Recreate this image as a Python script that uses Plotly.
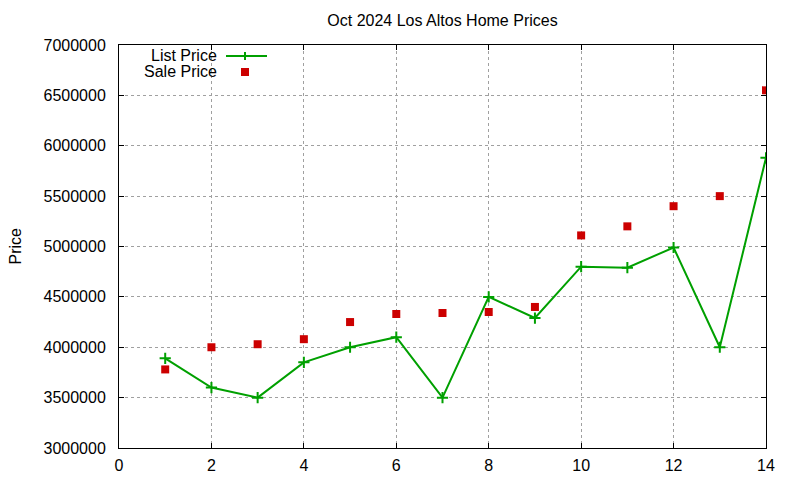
import plotly.graph_objects as go

# Oct 2024 Los Altos home prices
sale_no = list(range(1, 15))
list_price = [3890000, 3600000, 3500000, 3850000, 4000000, 4100000, 3500000,
              4500000, 4290000, 4800000, 4790000, 4990000, 4000000, 5880000]
sale_price = [3780000, 4000000, 4030000, 4080000, 4250000, 4330000, 4340000,
              4350000, 4400000, 5110000, 5200000, 5400000, 5500000, 6550000]

x_ticks = list(range(0, 15, 2))
y_ticks = list(range(3000000, 7000001, 500000))

GREEN = "#00a000"
RED = "#cc0000"
FONT = "Liberation Sans, Arial, sans-serif"

fig = go.Figure()

fig.add_trace(go.Scatter(
    x=sale_no, y=list_price, mode="lines+markers", name="List Price",
    line=dict(color=GREEN, width=2),
    marker=dict(symbol="cross-thin", size=8, line=dict(color=GREEN, width=2)),
    showlegend=False,
))
fig.add_trace(go.Scatter(
    x=sale_no, y=sale_price, mode="markers", name="Sale Price",
    marker=dict(symbol="square", size=8, color=RED),
    showlegend=False,
))

# gnuplot style key: text on the left, sample on the right
# (positions given in page pixels of the plot box 119..766 x 45..448)
def px_x(p):
    return (p - 119) / 647.0

def px_y(p):
    return (448 - p) / 403.0

shapes = [
    dict(type="line", xref="paper", yref="paper",
         x0=px_x(226), x1=px_x(267), y0=px_y(56), y1=px_y(56),
         line=dict(color=GREEN, width=2)),
    dict(type="line", xref="paper", yref="paper",
         x0=px_x(245), x1=px_x(245), y0=px_y(52), y1=px_y(60),
         line=dict(color=GREEN, width=2)),
    dict(type="rect", xref="paper", yref="paper",
         x0=px_x(241), x1=px_x(249), y0=px_y(68), y1=px_y(76),
         fillcolor=RED, line=dict(width=0)),
]

annotations = [
    dict(text="List Price", xref="paper", yref="paper", x=px_x(219), y=px_y(55),
         xanchor="right", yanchor="middle", showarrow=False),
    dict(text="Sale Price", xref="paper", yref="paper", x=px_x(219), y=px_y(71),
         xanchor="right", yanchor="middle", showarrow=False),
    # y title sits close to the page edge; nudged in so it is not clipped
    dict(text="Price", xref="paper", yref="paper", x=px_x(15), y=0.5,
         xanchor="center", yanchor="middle", textangle=-90, showarrow=False),
]

axis_common = dict(
    showline=True, linecolor="black", linewidth=1, mirror="ticks",
    ticks="inside", ticklen=5, tickcolor="black",
    showgrid=True, gridcolor="#a0a0a0", griddash="dot", gridwidth=1,
    zeroline=False,
)

fig.update_xaxes(range=[0, 14], tickvals=x_ticks, ticklabelstandoff=3, **axis_common)
fig.update_yaxes(range=[3000000, 7000000], tickvals=y_ticks, tickformat="d",
                 ticklabelstandoff=9, **axis_common)

# the page body adds 8px around the figure, margins allow for it
fig.update_layout(
    width=800, height=480,
    margin=dict(l=111, r=42, t=37, b=40),
    plot_bgcolor="white", paper_bgcolor="white",
    font=dict(family=FONT, size=16, color="black"),
    title=dict(text="Oct 2024 Los Altos Home Prices", x=0.5, xref="paper",
               y=1 - 12 / 480.0, yanchor="middle", font=dict(size=16)),
    shapes=shapes, annotations=annotations,
)

fig.write_html("out.html")
